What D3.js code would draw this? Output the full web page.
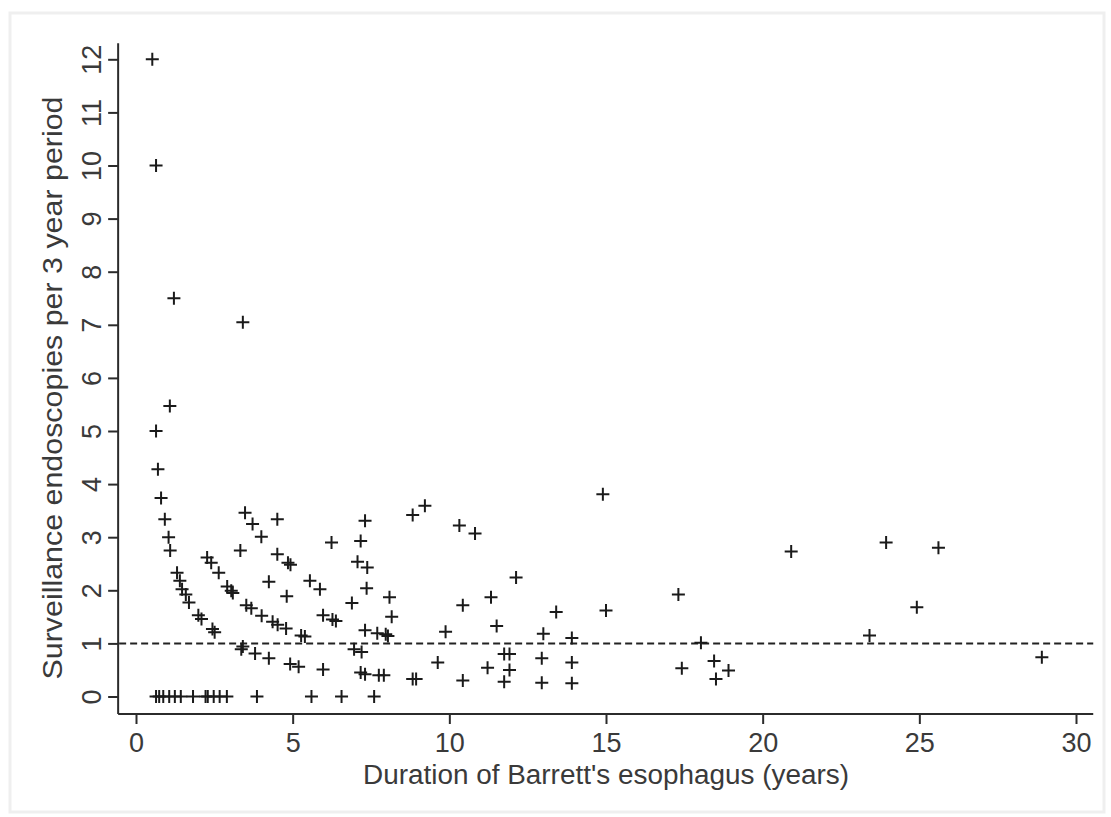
<!DOCTYPE html>
<html lang="en">

<head>
    <meta charset="UTF-8">
    <title>Surveillance endoscopies vs duration of Barrett's esophagus</title>
    <script src="https://d3js.org/d3.v7.min.js"></script>
    <style>
        body {
            margin: 0;
            padding: 0;
            background: #fff;
            font-family: Arial, "Liberation Sans", sans-serif;
        }

        .axis-line {
            stroke: #2b2b2b;
            stroke-width: 2;
        }

        .label {
            fill: #3a3a3a;
        }
    </style>
</head>

<body>
    <div id="chart"></div>

    <script>
        // Data: duration (years) and endoscopies per 3 years
        const durations = [
            0.52, 0.64, 1.21, 1.08, 0.64, 0.70, 0.80, 0.92, 1.04, 1.09, 1.31, 1.40, 1.47, 1.59, 1.69, 1.99, 2.09, 2.44, 2.51,
            2.27, 2.40, 2.64, 2.91, 3.04, 3.09, 3.52, 3.68, 4.01, 4.36, 4.52, 4.79, 5.27, 5.39,
            3.41, 3.36, 3.80, 4.24, 4.92, 5.19, 5.97,
            3.41, 3.48, 3.72, 4.00, 4.51, 3.33, 4.51, 4.85, 4.93, 6.24, 4.24, 4.81, 5.55, 5.87, 5.97, 6.27, 6.38,
            9.22, 8.83, 7.31, 7.17, 7.07, 7.38, 10.32, 10.82, 12.13, 7.36, 6.89, 8.09, 8.16, 10.43, 11.33, 11.51, 9.88,
            7.31, 7.70, 7.97, 8.04, 6.96, 7.20, 9.63, 11.22, 11.75, 11.92, 11.92, 11.75, 10.43, 12.95, 12.95, 13.00,
            7.17, 7.31, 7.75, 7.91, 8.83, 8.94,
            14.90, 13.41, 15.00, 13.91, 13.91, 13.91, 17.31, 18.03, 17.42, 18.45, 18.51, 18.91,
            20.91, 23.94, 25.61, 24.92, 23.41, 28.91,
            0.64, 0.74, 0.87, 1.06, 1.24, 1.43, 1.82, 2.22, 2.29, 2.48, 2.67, 2.90, 3.86, 5.60, 6.56, 7.60
        ];
        const endoscopies = [
            12.00, 10.00, 7.50, 5.47, 5.00, 4.28, 3.74, 3.34, 3.00, 2.75, 2.33, 2.18, 2.02, 1.92, 1.77, 1.53, 1.46, 1.27, 1.21,
            2.62, 2.52, 2.33, 2.07, 1.99, 1.95, 1.72, 1.66, 1.52, 1.41, 1.35, 1.28, 1.15, 1.13,
            0.94, 0.89, 0.81, 0.72, 0.61, 0.56, 0.51,
            7.05, 3.46, 3.25, 3.01, 3.34, 2.75, 2.68, 2.52, 2.48, 2.90, 2.16, 1.89, 2.18, 2.02, 1.53, 1.45, 1.42,
            3.59, 3.42, 3.31, 2.93, 2.54, 2.43, 3.22, 3.07, 2.24, 2.04, 1.76, 1.87, 1.50, 1.72, 1.87, 1.33, 1.22,
            1.25, 1.19, 1.17, 1.14, 0.89, 0.84, 0.64, 0.54, 0.80, 0.80, 0.50, 0.28, 0.30, 0.72, 0.26, 1.18,
            0.45, 0.42, 0.40, 0.40, 0.33, 0.33,
            3.81, 1.59, 1.62, 1.10, 0.64, 0.25, 1.92, 1.01, 0.53, 0.67, 0.33, 0.49,
            2.73, 2.90, 2.80, 1.68, 1.15, 0.74,
            0, 0, 0, 0, 0, 0, 0, 0, 0, 0, 0, 0, 0, 0, 0, 0
        ];
        const xTicks = [0, 5, 10, 15, 20, 25, 30];
        const yTicks = [0, 1, 2, 3, 4, 5, 6, 7, 8, 9, 10, 11, 12];
        const refLine = 1;

        const width = 1111;
        const height = 817;

        const svg = d3.select("#chart")
            .append("svg")
            .attr("width", width)
            .attr("height", height);

        // light frame around the figure
        svg.append("rect")
            .attr("x", 10)
            .attr("y", 13)
            .attr("width", 1094)
            .attr("height", 799)
            .attr("fill", "#fff")
            .attr("stroke", "#efefef")
            .attr("stroke-width", 3);

        const x = d3.scaleLinear().domain([0, 30]).range([136, 1076]);
        const y = d3.scaleLinear().domain([0, 12]).range([696.5, 59.3]);

        const xLeft = x(-0.57), xRight = x(30.55);
        const yBottom = y(-0.33), yTop = y(12.3);

        // x axis
        const xAxis = svg.append("g")
            .attr("transform", `translate(0,${yBottom})`)
            .call(d3.axisBottom(x).tickValues(xTicks).tickSize(10).tickPadding(9));
        xAxis.select(".domain").remove();
        xAxis.selectAll("line").attr("stroke", "#2b2b2b").attr("stroke-width", 2);
        xAxis.selectAll("text")
            .attr("class", "label")
            .style("font-family", "Arial, 'Liberation Sans', sans-serif")
            .style("font-size", "27px");

        // y axis, labels rotated
        const yAxis = svg.append("g")
            .attr("transform", `translate(${xLeft},0)`)
            .call(d3.axisLeft(y).tickValues(yTicks).tickSize(10));
        yAxis.select(".domain").remove();
        yAxis.selectAll("line").attr("stroke", "#2b2b2b").attr("stroke-width", 2);
        yAxis.selectAll("text")
            .attr("class", "label")
            .attr("x", null)
            .attr("dy", null)
            .attr("transform", "translate(-17,0) rotate(-90)")
            .attr("text-anchor", "middle")
            .style("font-family", "Arial, 'Liberation Sans', sans-serif")
            .style("font-size", "27px");

        svg.append("line")
            .attr("class", "axis-line")
            .attr("x1", xLeft).attr("x2", xRight)
            .attr("y1", yBottom).attr("y2", yBottom);

        svg.append("line")
            .attr("class", "axis-line")
            .attr("x1", xLeft).attr("x2", xLeft)
            .attr("y1", yBottom).attr("y2", yTop);

        // reference line at 1
        svg.append("line")
            .attr("x1", xLeft + 1).attr("x2", xRight)
            .attr("y1", y(refLine)).attr("y2", y(refLine))
            .attr("stroke", "#222")
            .attr("stroke-width", 2)
            .attr("stroke-dasharray", "7,4");

        // axis titles
        svg.append("text")
            .attr("class", "label")
            .attr("x", (x(0) + x(30)) / 2)
            .attr("y", 784)
            .attr("text-anchor", "middle")
            .attr("textLength", 486)
            .attr("lengthAdjust", "spacingAndGlyphs")
            .style("font-size", "27px")
            .text("Duration of Barrett's esophagus (years)");

        svg.append("text")
            .attr("class", "label")
            .attr("transform", `translate(62,388) rotate(-90)`)
            .attr("text-anchor", "middle")
            .attr("textLength", 583)
            .attr("lengthAdjust", "spacingAndGlyphs")
            .style("font-size", "27px")
            .text("Surveillance endoscopies per 3 year period");

        // plus markers
        const points = durations.map((d, i) => ({ dur: d, n: endoscopies[i] }));
        const s = 6.5;
        svg.append("g")
            .selectAll("path")
            .data(points)
            .enter().append("path")
            .attr("d", d => `M${x(d.dur) - s},${y(d.n)}H${x(d.dur) + s}M${x(d.dur)},${y(d.n) - s}V${y(d.n) + s}`)
            .attr("stroke", "#1a1a1a")
            .attr("stroke-width", 2)
            .attr("fill", "none");
    </script>
</body>

</html>
